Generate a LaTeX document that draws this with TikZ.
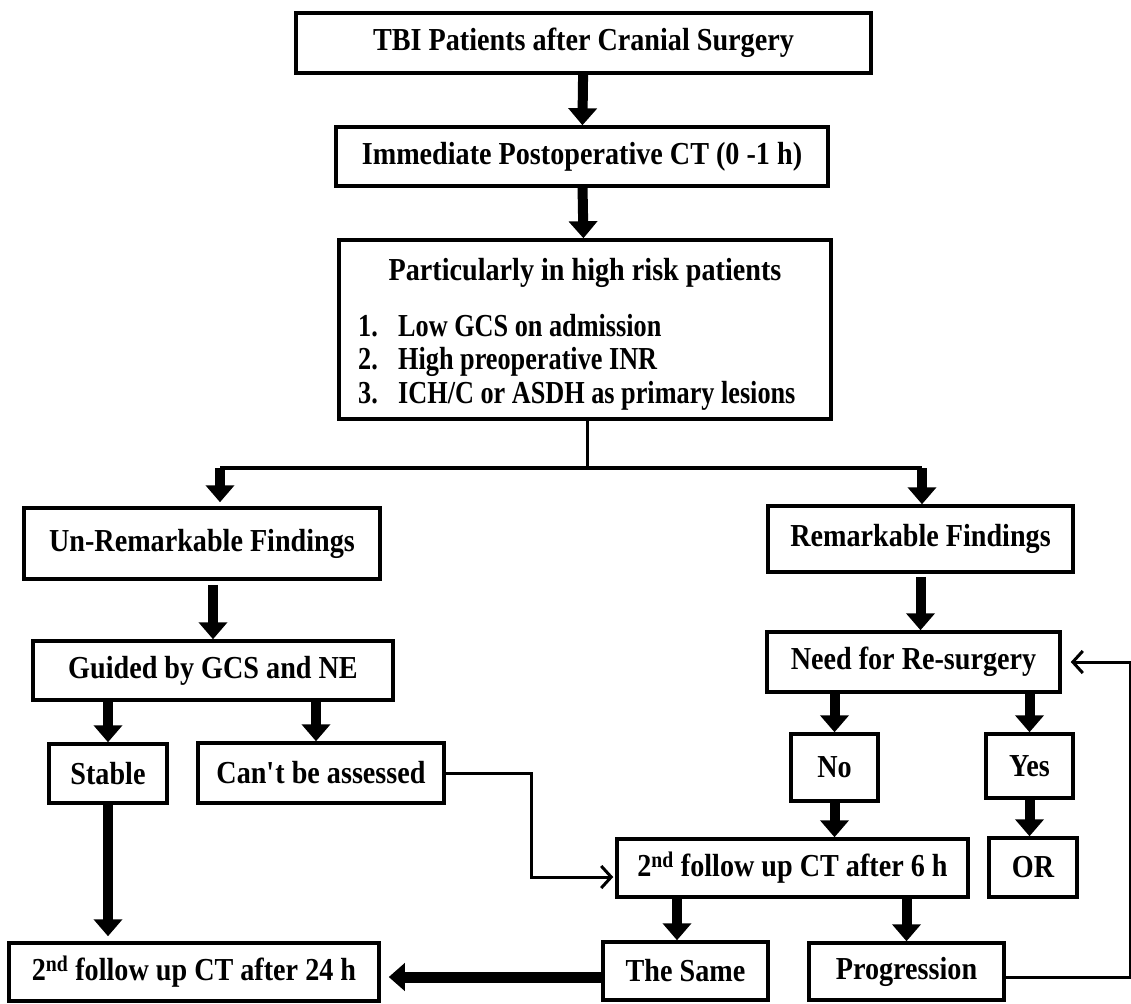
\documentclass[tikz,border=0pt]{standalone}
\usepackage{fontspec}
\setmainfont{Liberation Serif}[FakeStretch=0.88]
\newfontfamily\listfont{Liberation Serif}[FakeStretch=0.82]
\usetikzlibrary{arrows.meta}

\tikzset{
  box/.style={draw, line width=3.5pt, fill=white, inner sep=0pt,
    font=\fontsize{32}{38}\selectfont\bfseries},
  txt/.style={inner sep=0pt, font=\fontsize{32}{38}\selectfont\bfseries},
  fat/.style={line width=10pt, -{Triangle[width=28pt,length=17pt]}},
  fatter/.style={line width=11pt, -{Triangle[width=27pt,length=16pt]}},
  link/.style={line width=3pt, -{Straight Barb[length=10pt,width=22pt,line width=3pt]}},
}

\begin{document}
\begin{tikzpicture}[x=1pt, y=-1pt]
  \useasboundingbox (0,0) rectangle (1131,1003);

  \node[box, minimum width=575pt, minimum height=60pt] (tbi) at (583.5,43) {TBI Patients after Cranial Surgery};
  \node[box, minimum width=492pt, minimum height=59pt] (ct) at (582,156.5) {Immediate Postoperative CT (0 -1 h)};
  \node[box, minimum width=492pt, minimum height=179pt] (risk) at (585,329.5) {};
  \node[txt, anchor=base] (risktitle) at (585,280) {Particularly in high risk patients};
  \foreach \t [count=\i] in {Low GCS on admission, High preoperative INR, ICH/C or ASDH as primary lesions}
    \node[txt, font=\fontsize{32}{38}\listfont\bfseries, anchor=base west] (item\i) at (358,302.5+33.5*\i) {\makebox[40pt][l]{\i.}\t};

  \node[box, minimum width=356pt, minimum height=71pt] (unrem) at (202,543.5) {Un-Remarkable Findings};
  \node[box, minimum width=305pt, minimum height=66pt] (rem) at (920.5,539) {Remarkable Findings};
  \node[box, minimum width=360pt, minimum height=59pt] (guided) at (213,670.5) {Guided by GCS and NE};
  \node[box, minimum width=293pt, minimum height=60pt] (need) at (913.5,662) {Need for Re-surgery};
  \node[box, minimum width=118pt, minimum height=59pt] (stable) at (108,773.5) {Stable};
  \node[box, minimum width=246pt, minimum height=60pt] (cant) at (321,773) {Can\textquotesingle t be assessed};
  \node[box, minimum width=87pt, minimum height=67pt] (no) at (834.5,767.5) {No};
  \node[box, minimum width=87pt, minimum height=64pt] (yes) at (1029.5,766) {Yes};
  \node[box, minimum width=351pt, minimum height=58pt] (six) at (792.5,868) {2\textsuperscript{nd} follow up CT after 6 h};
  \node[box, minimum width=88pt, minimum height=59pt] (or) at (1033,867.5) {OR};
  \node[box, minimum width=370pt, minimum height=58pt] (tfour) at (194,972) {2\textsuperscript{nd} follow up CT after 24 h};
  \node[box, minimum width=165pt, minimum height=58pt] (same) at (685.5,971) {The Same};
  \node[box, minimum width=195pt, minimum height=57pt] (prog) at (906.5,971.5) {Progression};

  \coordinate (split) at (587,468);
  \coordinate (barL) at (220,468);
  \coordinate (barR) at (922,468);
  \coordinate (rim) at (1130,0);

  \draw[fat] (tbi) -- (ct);
  \draw[fat] (ct) -- (risk);
  \draw[line width=3pt] (risk.south -| split) -- (split);
  \draw[line width=4pt] (barL) -- (barR);
  \draw[fat, shorten >=4pt] (barL) -- (barL |- unrem.north);
  \draw[fat] (barR) -- (barR |- rem.north);
  \draw[fat, shorten <=4pt] (unrem.south -| guided) -- (guided);
  \draw[fat, shorten <=3pt] (rem) -- (rem |- need.north);
  \draw[fat] (guided.south -| stable) -- (stable);
  \draw[fat] (guided.south -| 316,0) -- (316,0 |- cant.north);
  \draw[fat] (need.south -| no) -- (no);
  \draw[fat] (need.south -| yes) -- (yes);
  \draw[fat] (no) -- (no |- six.north);
  \draw[fat] (yes) -- (yes |- or.north);
  \draw[fat] (six.south -| 677,0) -- (677,0 |- same.north);
  \draw[fat] (six.south -| prog) -- (prog);
  \draw[fat, shorten >=5pt] (stable) -- (stable |- tfour.north);
  \draw[fatter, shorten >=8pt] ([yshift=-6pt]same.west) -- ([yshift=-6pt]same.west -| tfour.east);
  \draw[link, shorten >=2pt] (cant.east) -- ++(86,0) |- ([yshift=-9pt]six.west);
  \draw[link, shorten >=9pt] ([yshift=-6pt]prog.east) -- ([yshift=-6pt]prog.east -| rim) |- (need.east);
\end{tikzpicture}
\end{document}
